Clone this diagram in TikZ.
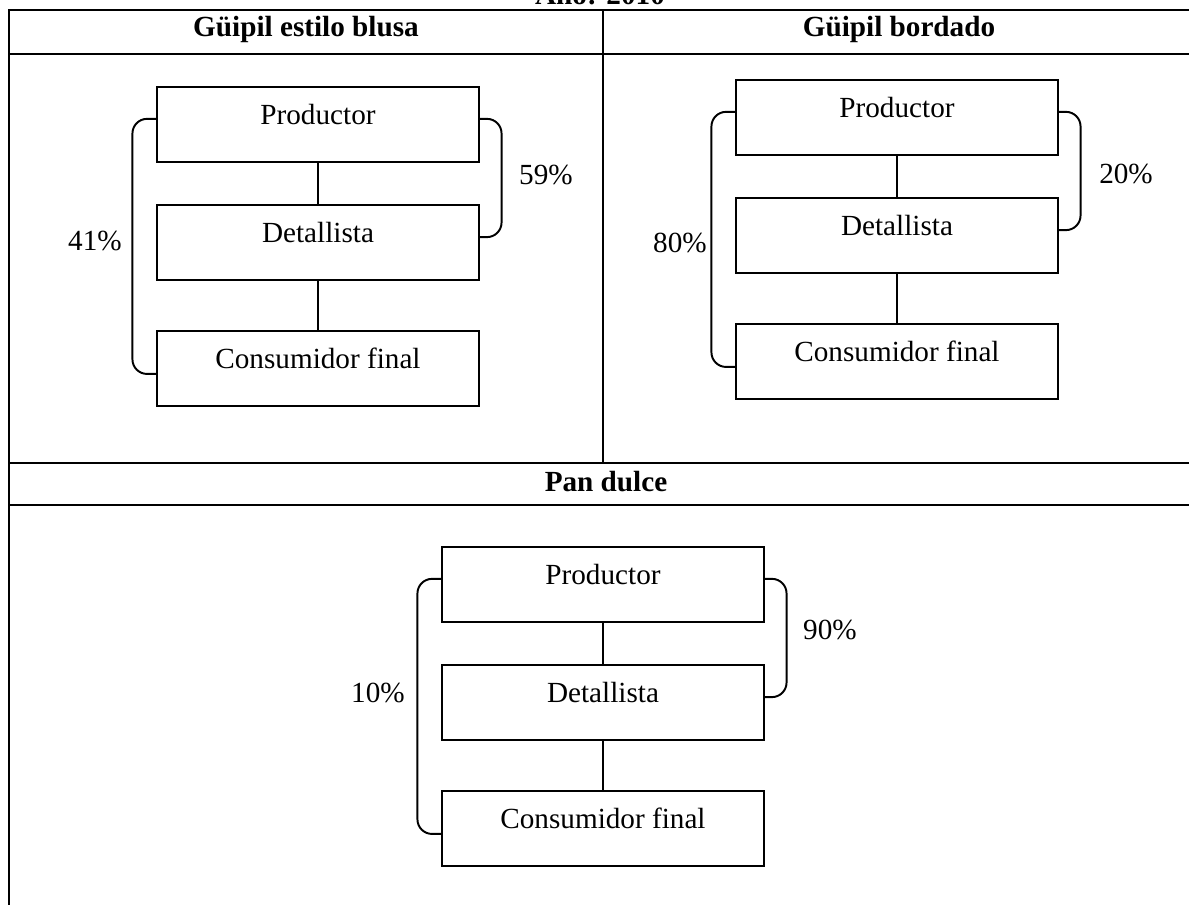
\documentclass[tikz,border=0pt]{standalone}
\usepackage{fontspec}
\setmainfont{Liberation Serif}
\usetikzlibrary{positioning}

\begin{document}
\begin{tikzpicture}[
  x=0.411pt, y=-0.411pt, node distance=17pt, font=\fontsize{12pt}{14pt}\selectfont,
  box/.style={draw, line width=0.8pt, minimum width=132pt, minimum height=30.8pt, inner sep=0pt, text height=7pt, text depth=7pt},
  head/.style={font=\fontsize{12pt}{14pt}\selectfont\bfseries},
  pct/.style={inner sep=1pt},
  rule/.style={line width=1pt}, link/.style={line width=0.7pt},
  brace/.style={line width=0.8pt, rounded corners=6pt},
]
  \useasboundingbox (0,0) rectangle (1189,905);
  % table
  \draw[rule] (1189,10) -- (9,10) -- (9,905);
  \draw[rule] (9,54) -- (1189,54);
  \draw[rule] (603,10) -- (603,463);
  \draw[rule] (9,463) -- (1189,463);
  \draw[rule] (9,505) -- (1189,505);
  \node[head, anchor=base] (year) at (600,5) {Año: 2010};
  \node[head, anchor=base] (hblusa) at (306,37) {Güipil estilo blusa};
  \node[head, anchor=base] (hbord) at (899,37) {Güipil bordado};
  \node[head, anchor=base] (hpan) at (606,491) {Pan dulce};
  % guipil estilo blusa
  \node[box] (p1) at (318,124.5) {Productor};
  \node[box, below=of p1] (d1) {Detallista};
  \node[box, below=20pt of d1] (c1) {Consumidor final};
  \draw[link] (p1) -- (d1);
  \draw[link] (d1) -- (c1);
  \draw[brace] (p1.178) -- ++(-24,0) |- (c1.182);
  \draw[brace] (p1.2) -- ++(22,0) |- (d1.2);
  \node[pct] (l1) at (95,241) {41\%};
  \node[pct] (r1) at (546,175) {59\%};
  % guipil bordado
  \node[box] (p2) at (897,117.5) {Productor};
  \node[box, below=of p2] (d2) {Detallista};
  \node[box, below=20pt of d2] (c2) {Consumidor final};
  \draw[link] (p2) -- (d2);
  \draw[link] (d2) -- (c2);
  \draw[brace] (p2.178) -- ++(-24,0) |- (c2.182);
  \draw[brace] (p2.2) -- ++(22,0) |- (d2.2);
  \node[pct] (l2) at (680,243) {80\%};
  \node[pct] (r2) at (1126,174) {20\%};
  % pan dulce
  \node[box] (p3) at (603,584.5) {Productor};
  \node[box, below=of p3] (d3) {Detallista};
  \node[box, below=20pt of d3] (c3) {Consumidor final};
  \draw[link] (p3) -- (d3);
  \draw[link] (d3) -- (c3);
  \draw[brace] (p3.178) -- ++(-24,0) |- (c3.182);
  \draw[brace] (p3.2) -- ++(22,0) |- (d3.2);
  \node[pct] (l3) at (378,693) {10\%};
  \node[pct] (r3) at (830,630) {90\%};
\end{tikzpicture}
\end{document}
